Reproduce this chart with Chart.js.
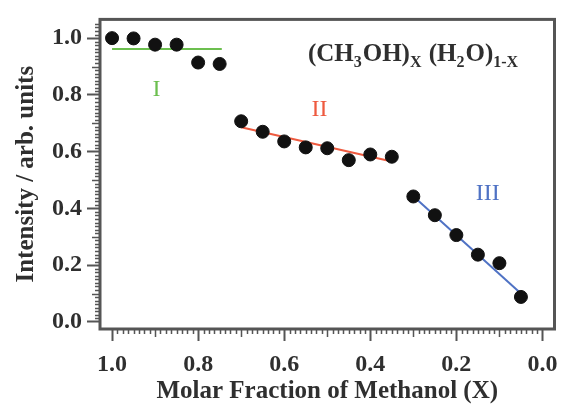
<!DOCTYPE html>
<html><head><meta charset="utf-8">
<script src="https://cdn.jsdelivr.net/npm/chart.js@4.4.0/dist/chart.umd.min.js"></script>
<style>html,body{margin:0;padding:0;background:#fff;}#wrap{width:562px;height:407px;position:relative;}</style>
</head><body><div id="wrap"><canvas id="c"></canvas></div>
<script>
// ---- data ----
const molarFraction = [1.00,0.95,0.90,0.85,0.80,0.75,0.70,0.65,0.60,0.55,0.50,0.45,0.40,0.35,0.30,0.25,0.20,0.15,0.10,0.05];
const intensity     = [1.000,0.999,0.977,0.977,0.914,0.909,0.707,0.670,0.636,0.615,0.612,0.570,0.590,0.582,0.442,0.376,0.306,0.237,0.207,0.088];
const fitIX   = [1.00, 0.745];
const fitIY   = [0.962, 0.962];
const fitIIX  = [0.70, 0.35];
const fitIIY  = [0.686, 0.565];
const fitIIIX = [0.30, 0.05];
const fitIIIY = [0.443, 0.100];
const xTickValues = [0.0, 0.2, 0.4, 0.6, 0.8, 1.0];
const yTickValues = [0.0, 0.2, 0.4, 0.6, 0.8, 1.0];
const regionLabels = ['I', 'II', 'III'];
const xTitle = 'Molar Fraction of Methanol (X)';
const yTitle = 'Intensity / arb. units';

const pts = (xs, ys) => xs.map((x, i) => ({x, y: ys[i]}));
const AX = '#555555';
const TXT = '#2f2f2f';
const SERIF = '"Liberation Serif", "DejaVu Serif", serif';

const decor = {
  id: 'decor',
  afterDraw(chart) {
    const {ctx, chartArea: a, scales: {x, y}} = chart;
    ctx.save();
    // minor ticks
    ctx.strokeStyle = AX; ctx.lineWidth = 1.5;
    ctx.beginPath();
    for (let k = 0; k <= 80; k++) {
      if (k % 16 === 0) continue;
      const px = Math.round(x.getPixelForValue(k * 0.0125)) + 0.5;
      const len = (k % 8 === 0) ? 8 : 5;
      ctx.moveTo(px, a.bottom); ctx.lineTo(px, a.bottom + len);
    }
    for (let k = 0; k <= 84; k++) {
      if (k % 16 === 0) continue;
      const py = Math.round(y.getPixelForValue(k * 0.0125)) + 0.5;
      const len = (k % 8 === 0) ? 8 : 5;
      ctx.moveTo(a.left, py); ctx.lineTo(a.left - len, py);
    }
    ctx.stroke();
    // frame
    ctx.strokeStyle = AX; ctx.lineWidth = 3;
    ctx.strokeRect(a.left, a.top, a.right - a.left, a.bottom - a.top);
    // region labels
    const romanPos = [[0.897, 0.82, '#6cbf4f'], [0.518, 0.747, '#ee5a3f'], [0.127, 0.452, '#4f72c4']];
    ctx.font = '24px ' + SERIF;
    ctx.textAlign = 'center'; ctx.textBaseline = 'middle';
    regionLabels.forEach((t, i) => {
      const [vx, vy, col] = romanPos[i];
      ctx.fillStyle = col;
      ctx.fillText(t, x.getPixelForValue(vx), y.getPixelForValue(vy));
    });
    // formula
    const parts = [['(CH', 0], ['3', 1], ['OH)', 0], ['X', 1], [' (H', 0], ['2', 1], ['O)', 0], ['1-X', 1]];
    let cx = x.getPixelForValue(0.545);
    const base = y.getPixelForValue(0.918);
    ctx.textAlign = 'left'; ctx.textBaseline = 'alphabetic'; ctx.fillStyle = TXT;
    parts.forEach(([t, sub]) => {
      ctx.font = sub ? 'bold 16px ' + SERIF : 'bold 25px ' + SERIF;
      ctx.fillText(t, cx, base + (sub ? 6 : 0));
      cx += ctx.measureText(t).width + (sub ? 1 : 0);
    });
    ctx.restore();
  }
};

new Chart(document.getElementById('c'), {
  type: 'scatter',
  data: {
    datasets: [
      {label: 'data', data: pts(molarFraction, intensity), backgroundColor: '#111', borderColor: '#111', pointRadius: 6.5, pointHoverRadius: 6.5, order: 0},
      {label: 'I', data: pts(fitIX, fitIY), showLine: true, borderColor: '#6cbf4f', borderWidth: 2, pointRadius: 0, order: 1},
      {label: 'II', data: pts(fitIIX, fitIIY), showLine: true, borderColor: '#ee5a3f', borderWidth: 2, pointRadius: 0, order: 1},
      {label: 'III', data: pts(fitIIIX, fitIIIY), showLine: true, borderColor: '#4f72c4', borderWidth: 2, pointRadius: 0, order: 1}
    ]
  },
  options: {
    responsive: true, maintainAspectRatio: false, animation: false, devicePixelRatio: 1,
    layout: {padding: {top: 15, right: 7, left: 0, bottom: 0}},
    plugins: {legend: {display: false}, tooltip: {enabled: false}},
    scales: {
      x: {
        type: 'linear', reverse: true, min: -0.028, max: 1.028,
        afterBuildTicks: s => { s.ticks = xTickValues.map(v => ({value: v})); },
        afterFit: s => { s.height = 78; },
        ticks: {callback: v => v.toFixed(1), font: {family: SERIF, size: 24, weight: 'bold'}, color: TXT, padding: 9, maxRotation: 0, autoSkip: false},
        grid: {drawOnChartArea: false, drawTicks: true, tickLength: 12, tickColor: AX, tickWidth: 2},
        border: {display: false},
        title: {display: true, text: xTitle, font: {family: SERIF, size: 25, weight: 'bold'}, color: TXT, padding: {top: 0, bottom: 0}}
      },
      y: {
        type: 'linear', min: -0.025, max: 1.066,
        afterBuildTicks: s => { s.ticks = yTickValues.map(v => ({value: v})); },
        afterFit: s => { s.width = 100; },
        ticks: {callback: v => v.toFixed(1), font: {family: SERIF, size: 24, weight: 'bold'}, color: TXT, padding: 5},
        grid: {drawOnChartArea: false, drawTicks: true, tickLength: 13, tickColor: AX, tickWidth: 2},
        border: {display: false},
        title: {display: true, text: yTitle, font: {family: SERIF, size: 25, weight: 'bold'}, color: TXT, padding: {top: 12, bottom: 0}}
      }
    }
  },
  plugins: [decor]
});
</script>
</body></html>
